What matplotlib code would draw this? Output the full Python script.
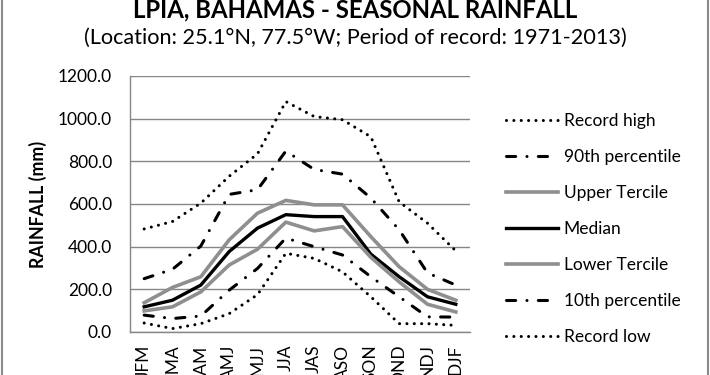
import matplotlib
matplotlib.use("Agg")
import matplotlib.pyplot as plt
from matplotlib.patches import Rectangle

plt.rcParams['font.family'] = ['Lato', 'DejaVu Sans']

# seasonal rainfall (mm)
seasons = ['JFM', 'FMA', 'MAM', 'AMJ', 'MJJ', 'JJA', 'JAS', 'ASO', 'SON', 'OND', 'NDJ', 'DJF']
record_high = [483, 518, 604, 730, 835, 1080, 1010, 995, 915, 610, 510, 380]
p90 = [250, 294, 403, 645, 667, 848, 762, 740, 628, 479, 277, 220]
upper_tercile = [137, 209, 259, 432, 557, 617, 596, 596, 447, 306, 200, 149]
median = [118, 149, 220, 377, 487, 550, 541, 541, 365, 259, 165, 130]
lower_tercile = [99, 118, 188, 314, 388, 515, 474, 494, 350, 235, 130, 94]
p10 = [79, 63, 75, 196, 298, 440, 400, 361, 259, 165, 71, 70]
record_low = [42, 16, 39, 86, 175, 369, 345, 282, 165, 39, 39, 31]

yticks = [0, 200, 400, 600, 800, 1000, 1200]

fig = plt.figure(figsize=(7.1, 3.75), dpi=100)
ax = fig.add_axes([130 / 710, 43 / 375, 340 / 710, 256 / 375])

x = range(len(seasons))
dotted = (0, (0.01, 2.4))
dashdot = (0, (3, 3.7, 0.01, 3.7))
grey = '#8f8f8f'

ax.plot(x, record_high, color='black', lw=2.2, ls=dotted, dash_capstyle='round', label='Record high')
ax.plot(x, p90, color='black', lw=2.2, ls=dashdot, dash_capstyle='round', label='90th percentile')
ax.plot(x, upper_tercile, color=grey, lw=2.6, label='Upper Tercile')
ax.plot(x, median, color='black', lw=2.4, label='Median')
ax.plot(x, lower_tercile, color=grey, lw=2.6, label='Lower Tercile')
ax.plot(x, p10, color='black', lw=2.2, ls=dashdot, dash_capstyle='round', label='10th percentile')
ax.plot(x, record_low, color='black', lw=2.2, ls=dotted, dash_capstyle='round', label='Record low')

ax.set_xlim(-0.5, len(seasons) - 0.5)
ax.set_ylim(0, 1200)
ax.set_yticks(yticks)
ax.set_yticklabels([f'{v:.1f}' for v in yticks], fontsize=12.5)
ax.set_xticks(list(x))
ax.set_xticklabels(seasons, rotation=90, fontsize=12.5)
ax.tick_params(axis='both', length=0)
ax.tick_params(axis='y', pad=13)
ax.tick_params(axis='x', pad=9)
ax.yaxis.grid(True, color='#868686', lw=1)
ax.set_axisbelow(True)
for side in ['top', 'right']:
    ax.spines[side].set_visible(False)
for side in ['left', 'bottom']:
    ax.spines[side].set_color('#868686')
    ax.spines[side].set_linewidth(1)

ax.set_ylabel('RAINFALL (mm)', fontsize=12.8, fontweight='bold', labelpad=8)

leg = ax.legend(loc='upper left', bbox_to_anchor=(490 / 710, 1 - 97 / 375),
                bbox_transform=fig.transFigure, frameon=False, fontsize=12.5,
                handlelength=3.0, handletextpad=0.35, labelspacing=1.16)

fig.text(0.5, 1 - 17 / 375, 'LPIA, BAHAMAS - SEASONAL RAINFALL', ha='center', va='baseline',
         fontsize=17.3, fontweight='bold')
fig.text(0.5, 1 - 44 / 375, '(Location: 25.1°N, 77.5°W; Period of record: 1971-2013)',
         ha='center', va='baseline', fontsize=15.6)

fig.patches.append(Rectangle((2 / 710, -0.1), 706 / 710, 1.2, transform=fig.transFigure,
                             fill=False, edgecolor='#8a8a8a', lw=1.5))

fig.savefig('out.png', dpi=100)
